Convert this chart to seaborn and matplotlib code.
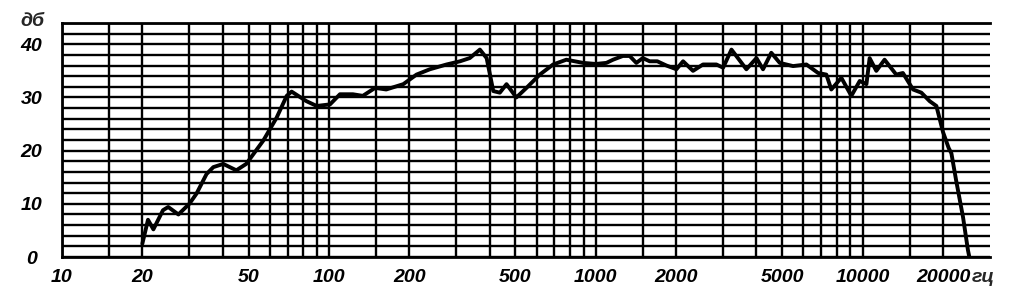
import numpy as np
import pandas as pd
import matplotlib
matplotlib.use("Agg")
import matplotlib.pyplot as plt
import seaborn as sns
from matplotlib.ticker import FixedLocator, NullFormatter

# ---- data ----
freq_hz = [20, 21, 22, 23.9, 25, 27.3, 30, 31.9, 34.8, 36.9, 40.2, 45, 49,
           56.8, 63.7, 69.5, 72.5, 82.4, 90, 101, 110, 123, 134, 149, 164,
           190, 213, 239, 276, 310, 337, 368, 390, 413, 437, 463, 504, 550,
           617, 692, 776, 896, 1000, 1096, 1161, 1263, 1340, 1419, 1500,
           1592, 1700, 1840, 2005, 2124, 2314, 2522, 2830, 3000, 3224, 3667,
           4000, 4233, 4546, 4890, 5485, 6155, 6808, 7310, 7630, 8320, 9070,
           9750, 10330, 10620, 11250, 12080, 13360, 14150, 15440, 16590,
           17830, 18890, 20000, 21000, 21500, 22400, 23770, 24800, 25100]
level_db = [2.5, 7.0, 5.2, 8.8, 9.4, 8.0, 10.0, 11.9, 15.6, 16.9, 17.5, 16.3,
            17.5, 21.9, 26.2, 30.3, 31.1, 29.3, 28.4, 28.7, 30.6, 30.6, 30.3,
            31.8, 31.5, 32.5, 34.3, 35.3, 36.2, 36.8, 37.4, 39.0, 37.4, 31.2,
            30.9, 32.5, 30.0, 31.8, 34.3, 36.2, 37.1, 36.5, 36.3, 36.5, 37.1,
            37.8, 37.8, 36.5, 37.4, 36.8, 36.8, 36.0, 35.3, 36.8, 35.0, 36.2,
            36.2, 35.6, 39.0, 35.3, 37.4, 35.3, 38.4, 36.5, 35.9, 36.2, 34.6,
            34.3, 31.5, 33.7, 30.3, 33.1, 32.5, 37.4, 35.0, 37.1, 34.3, 34.6,
            31.5, 30.9, 29.3, 28.4, 23.5, 20.5, 19.5, 14.4, 7.5, 1.3, 0.0]

x_tick_values = [10, 20, 50, 100, 200, 500, 1000, 2000, 5000, 10000, 20000]
x_tick_labels = ["10", "20", "50", "100", "200", "500", "1000", "2000",
                 "5000", "10000", "20000"]
y_tick_values = [0, 10, 20, 30, 40]
y_tick_labels = ["0", "10", "20", "30", "40"]
y_unit = "дб"
x_unit = "гц"

df = pd.DataFrame({"freq": freq_hz, "db": level_db})

sns.set_style("white")
plt.rcParams["font.family"] = ["Liberation Sans", "DejaVu Sans"]

W, H = 1014, 296
fig = plt.figure(figsize=(W / 100, H / 100), dpi=100)
ax = fig.add_axes([62 / W, (H - 257) / H, (990 - 62) / W, (257 - 23) / H])

ax.set_xscale("log")
ax.set_xlim(10, 30000)
ax.set_ylim(0, 44)

# grid
minor_x = []
for dec in [10, 100, 1000, 10000]:
    for m in [1, 1.5, 2, 3, 4, 5, 6, 7, 8, 9]:
        v = dec * m
        if v <= 20000:
            minor_x.append(v)
for v in minor_x:
    ax.axvline(v, color="black", lw=1.7, zorder=1)
for v in np.arange(0, 45, 2):
    ax.axhline(v, color="black", lw=1.7, zorder=1)

sns.lineplot(data=df, x="freq", y="db", ax=ax, color="black", lw=2.8,
             zorder=3, legend=False)

ax.xaxis.set_major_locator(FixedLocator(x_tick_values))
ax.xaxis.set_minor_locator(FixedLocator([]))
ax.xaxis.set_minor_formatter(NullFormatter())
ax.set_xticklabels(x_tick_labels)
ax.set_yticks(y_tick_values)
ax.set_yticklabels(y_tick_labels)
ax.set_xlabel("")
ax.set_ylabel("")

FS = 14
fp = dict(fontsize=FS, fontweight="bold", fontstyle="italic")
for lab in ax.get_xticklabels() + ax.get_yticklabels():
    lab.set_fontsize(FS)
    lab.set_fontweight("bold")
    lab.set_fontstyle("italic")
for lab in ax.get_yticklabels():
    lab.set_horizontalalignment("center")

ax.tick_params(axis="x", direction="out", length=5, width=2, pad=4,
               colors="black")
ax.tick_params(axis="y", direction="out", length=8, width=2, pad=14,
               colors="black")

for s in ["left", "top", "bottom"]:
    ax.spines[s].set_linewidth(2)
    ax.spines[s].set_color("black")
ax.spines["right"].set_visible(False)

fig.text(32 / W, (H - 22) / H, y_unit, ha="center", va="center", **fp)
fig.text(972 / W, (H - 278) / H, x_unit, ha="left", va="center", **fp)

fig.savefig("out.png", dpi=100)
